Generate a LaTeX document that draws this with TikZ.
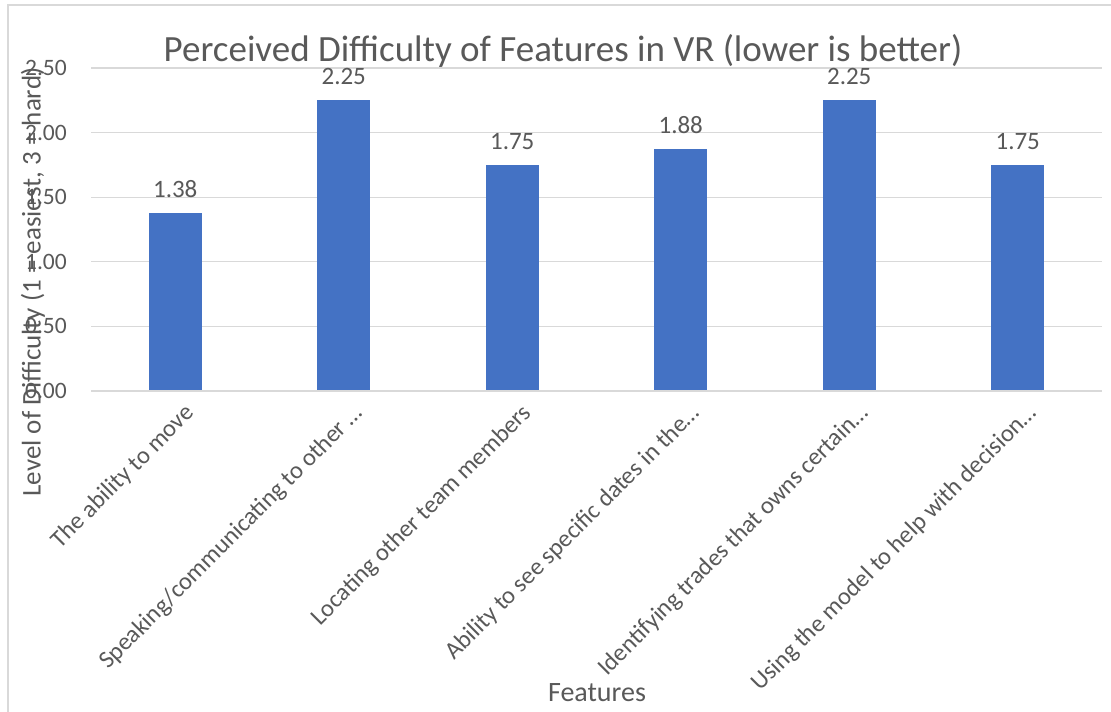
\documentclass[tikz,border=0pt]{standalone}
\usepackage{fontspec}
\setmainfont{Carlito}
\usetikzlibrary{positioning}

\definecolor{barblue}{HTML}{4472C4}
\definecolor{txtgray}{HTML}{595959}
\definecolor{gridgray}{HTML}{D9D9D9}

\begin{document}
\begin{tikzpicture}[x=1pt, y=-1pt, node distance=4pt, text=txtgray]
	\tikzstyle{bar}=[fill=barblue, draw=none]
	\tikzstyle{grid}=[draw=gridgray, line width=1.3pt]
	\tikzstyle{frame}=[draw=gridgray, line width=1.6pt]
	\tikzstyle{tick}=[anchor=east, inner sep=0pt, font=\fontsize{23.5}{27}\selectfont]
	\tikzstyle{val}=[inner sep=0pt, font=\fontsize{25}{29}\selectfont]
	\tikzstyle{cat}=[anchor=north east, rotate=45, inner sep=0pt, font=\fontsize{24.5}{28}\selectfont]
	\useasboundingbox (0,0) rectangle (1111,712);
	\fill[white] (0,0) rectangle (1111,712);
	% chart frame
	\draw[frame] (8,712) -- (8,5) -- (1111,5);
	% gridlines and tick labels
	\draw[grid] (91,68) -- (1102,68);
	\draw[grid] (91,132.6) -- (1102,132.6);
	\draw[grid] (91,197.2) -- (1102,197.2);
	\draw[grid] (91,261.8) -- (1102,261.8);
	\draw[grid] (91,326.4) -- (1102,326.4);
	\node[tick] (t250) at (67,68) {2.50};
	\node[tick] (t200) at (67,132.6) {2.00};
	\node[tick] (t150) at (67,197.2) {1.50};
	\node[tick] (t100) at (67,261.8) {1.00};
	\node[tick] (t050) at (67,326.4) {0.50};
	\node[tick] (t000) at (67,391) {0.00};
	% bars
	\draw[bar] (148.75,391) rectangle (201.75,213.35);
	\draw[bar] (317.25,391) rectangle (370.25,100.3);
	\draw[bar] (485.75,391) rectangle (538.75,164.9);
	\draw[bar] (654.25,391) rectangle (707.25,148.75);
	\draw[bar] (822.75,391) rectangle (875.75,100.3);
	\draw[bar] (991.25,391) rectangle (1044.25,164.9);
	\draw[grid] (91,391) -- (1102,391);
	% value labels
	\coordinate (top1) at (175.25,213.35);
	\coordinate (top2) at (343.75,100.3);
	\coordinate (top3) at (512.25,164.9);
	\coordinate (top4) at (680.75,148.75);
	\coordinate (top5) at (849.25,100.3);
	\coordinate (top6) at (1017.75,164.9);
	\node[val, above=15pt of top1] (v1) {1.38};
	\node[val, above=15pt of top2] (v2) {2.25};
	\node[val, above=15pt of top3] (v3) {1.75};
	\node[val, above=15pt of top4] (v4) {1.88};
	\node[val, above=15pt of top5] (v5) {2.25};
	\node[val, above=15pt of top6] (v6) {1.75};
	% category labels
	\node[cat] (c1) at (183.25,402) {The ability to move};
	\node[cat] (c2) at (351.75,402) {Speaking/communicating to other …};
	\node[cat] (c3) at (520.25,402) {Locating other team members};
	\node[cat] (c4) at (688.75,402) {Ability to see specific dates in the…};
	\node[cat] (c5) at (857.25,402) {Identifying trades that owns certain…};
	\node[cat] (c6) at (1025.75,402) {Using the model to help with decision…};
	% titles
	\node[font=\fontsize{37}{42}\selectfont] (title) at (563,51) {Perceived Difficulty of Features in VR (lower is better)};
	\node[rotate=90, font=\fontsize{27}{31}\selectfont] (ylabel) at (33,282) {Level of Difficulty (1 = easiest, 3 = hard)};
	\node[font=\fontsize{28}{32}\selectfont] (xlabel) at (597,693) {Features};
\end{tikzpicture}
\end{document}
